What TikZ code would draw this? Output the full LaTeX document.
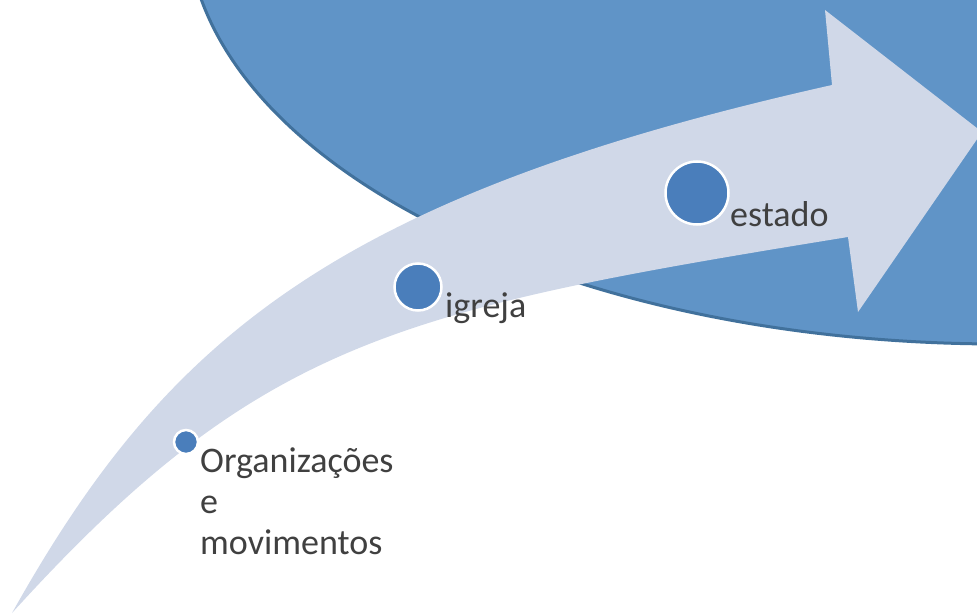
\documentclass[tikz,border=0pt]{standalone}
\usepackage{fontspec}
\setmainfont{Carlito}
\usepackage{tikz}
\usetikzlibrary{positioning}
\definecolor{ovalfill}{RGB}{96,148,199}
\definecolor{ovalline}{RGB}{65,113,156}
\definecolor{arrowfill}{RGB}{208,216,232}
\definecolor{dotfill}{RGB}{74,126,187}
\definecolor{labeltext}{RGB}{64,64,64}
\tikzset{
  oval/.style={fill=ovalfill, draw=ovalline, line width=3pt},
  bigarrow/.style={fill=arrowfill, draw=none},
  dot/.style={circle, fill=dotfill, draw=white, line width=2.5pt, inner sep=0pt},
  steplabel/.style={inner sep=0pt, text=labeltext, font=\fontsize{36}{41}\selectfont, align=left}
}

\begin{document}
\begin{tikzpicture}[x=1pt,y=-1pt]
\useasboundingbox (0,0) rectangle (977,615);
\clip (0,0) rectangle (977,615);
% background oval
\draw [oval] (1000,-80) ellipse [x radius=813, y radius=424];
% curved arrow
\fill [bigarrow] (12,613) .. controls (165,340) and (332,197) .. (832,85)
  -- (825,10) -- (982,132) -- (858,312) -- (848,237)
  .. controls (398,310) and (260,340) .. (12,613) -- cycle;
%
\node [dot, minimum size=24pt] (org) at (186,442) {};
\node [dot, minimum size=47pt] (igreja) at (418,287) {};
\node [dot, minimum size=63pt] (estado) at (697,193) {};
%
\node [steplabel, anchor=base west] (orgtext) at (200,554) {Organizações\\e\\movimentos};
\node [steplabel, anchor=base west] (igrejatext) at (445,317) {igreja};
\node [steplabel, anchor=base west] (estadotext) at (730,226) {estado};
\end{tikzpicture}
\end{document}
